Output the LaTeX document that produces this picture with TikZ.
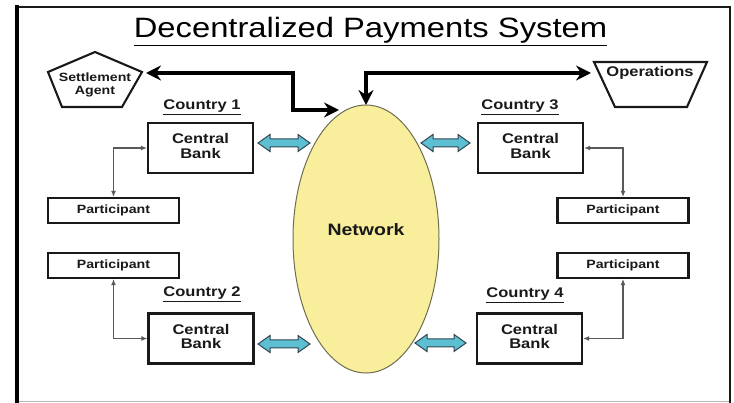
\documentclass[tikz,border=0pt]{standalone}
\usepackage{fontspec}
\setmainfont{Liberation Sans}
\usepackage{graphicx}
\usetikzlibrary{shapes.geometric,arrows.meta}
\definecolor{ink}{RGB}{25,25,25}
\definecolor{netfill}{RGB}{248,238,155}
\definecolor{netline}{RGB}{110,110,80}
\definecolor{cyanfill}{RGB}{92,192,210}
\definecolor{cyanline}{RGB}{50,70,80}
\newcommand{\tl}[1]{\scalebox{1.18}[1]{\begin{tabular}{@{}c@{}}#1\end{tabular}}}
\newcommand{\dblarr}[3]{%
  \filldraw[fill=cyanfill,draw=cyanline,line width=1pt,line join=miter]
    (#1,#3) -- ({#1+12},{#3-8.5}) -- ({#1+12},{#3-4}) -- ({#2-12},{#3-4})
    -- ({#2-12},{#3-8.5}) -- (#2,#3) -- ({#2-12},{#3+8.5}) -- ({#2-12},{#3+4})
    -- ({#1+12},{#3+4}) -- ({#1+12},{#3+8.5}) -- cycle;}
\begin{document}
\begin{tikzpicture}[x=1pt,y=-1pt,
  box/.style={draw=ink,line width=2.1pt,fill=white,inner sep=0pt,text=ink,
    font=\bfseries\fontsize{14}{14}\selectfont},
  cbank/.style={box,minimum width=105pt,minimum height=50pt},
  part/.style={box,minimum width=131pt,minimum height=25pt,
    font=\bfseries\fontsize{12}{12}\selectfont},
  ctry/.style={anchor=base,inner sep=0pt,text=ink,font=\bfseries\fontsize{14}{14}\selectfont},
  lbl/.style={inner sep=0pt,text=ink},
  link/.style={draw=black!65,line width=1.3pt,
    {Latex[length=6pt,width=5pt]}-{Latex[length=6pt,width=5pt]}},
  big/.style={draw=black,line width=3.5pt,line join=miter,
    {Stealth[length=15pt,width=15pt,inset=5pt]}-{Stealth[length=15pt,width=15pt,inset=5pt]}},
  shapeline/.style={draw=ink,line width=2.1pt,fill=white,line join=miter},
]
\useasboundingbox (0,0) rectangle (734,403);
% frame
\draw[gray!55,line width=1pt] (17,401.5) -- (730,401.5);
\draw[ink,line width=2pt] (17,7) -- (730,7) -- (730,403);
\draw[black,line width=3.5pt] (17,5.5) -- (17,403);
% title
\node[anchor=base,inner sep=0pt,text=black,font=\fontsize{28}{28}\selectfont] (title) at (370.5,38)
  {\scalebox{1.17}[1]{\underline{Decentralized Payments System}}};
% network
\node[ellipse,draw=netline,line width=1pt,fill=netfill,minimum width=146pt,minimum height=268pt,inner sep=0pt] (net) at (366,239) {};
\node[lbl,font=\bfseries\fontsize{16.5}{16.5}\selectfont] (netlbl) at (366,232) {\tl{Network}};
% settlement agent pentagon
\draw[shapeline] (95,52) -- (142,72) -- (122,107) -- (62,107) -- (48,72) -- cycle;
\node[lbl,font=\bfseries\fontsize{12}{13}\selectfont] (sa) at (95,85) {\tl{Settlement\\Agent}};
\coordinate (sa-r) at (146,73);
% operations trapezoid
\draw[shapeline] (594,62) -- (707,62) -- (687,107) -- (615,107) -- cycle;
\node[lbl,font=\bfseries\fontsize{14}{14}\selectfont] (ops) at (650,74) {\tl{Operations}};
\coordinate (ops-l) at (591,73);
% thick connectors
\coordinate (j1) at (293,73);
\coordinate (n1) at (339,110);
\coordinate (n2) at (366,105);
\draw[big] (sa-r) -- (j1) |- (n1);
\draw[big] (n2) |- (ops-l);
% countries
\node[ctry] (c1) at (202,111) {\tl{\underline{Country 1}}};
\node[ctry] (c2) at (202,298) {\tl{\underline{Country 2}}};
\node[ctry] (c3) at (520,111) {\tl{\underline{Country 3}}};
\node[ctry] (c4) at (525,299) {\tl{\underline{Country 4}}};
% central banks
\node[cbank] (cb1) at (200.5,148) {\tl{Central\\Bank}};
\node[cbank] (cb2) at (201,338.5) {\tl{Central\\Bank}};
\node[cbank] (cb3) at (530.5,148) {\tl{Central\\Bank}};
\node[cbank] (cb4) at (529.5,338.5) {\tl{Central\\Bank}};
% participants
\node[part] (p1) at (113.5,210.5) {\tl{Participant}};
\node[part] (p2) at (113.5,265.5) {\tl{Participant}};
\node[part] (p3) at (623,210.5) {\tl{Participant}};
\node[part] (p4) at (623,265.5) {\tl{Participant}};
% thin links
\draw[link] (p1.north) |- (cb1.west);
\draw[link] (p2.south) |- (cb2.west);
\draw[link] (cb3.east) -| (p3.north);
\draw[link] (cb4.east) -| (p4.south);
% cyan double arrows
\dblarr{258}{310}{143}
\dblarr{258}{310}{344}
\dblarr{421}{470}{143}
\dblarr{415}{466}{343}
\end{tikzpicture}
\end{document}
